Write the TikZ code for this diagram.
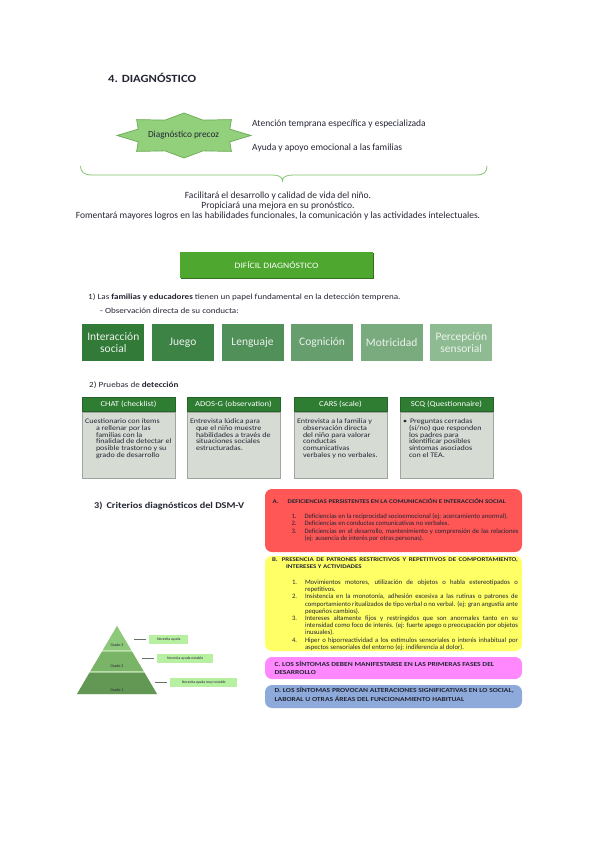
\documentclass[tikz,border=0pt]{standalone}
\usepackage{fontspec}
\setmainfont{Carlito}
\newfontfamily\ancha{Carlito}[FakeStretch=1.15]
\newfontfamily\anchisima{Carlito}[FakeStretch=1.22]
\usetikzlibrary{positioning, shadows}

\definecolor{tinta}{RGB}{36,38,52}
\definecolor{verdeestrella}{RGB}{146,208,124}
\definecolor{bordeestrella}{RGB}{104,170,84}
\definecolor{verdellave}{RGB}{130,198,110}
\definecolor{verdedificil}{RGB}{78,167,46}
\definecolor{sombradificil}{RGB}{52,112,32}
\definecolor{cond1}{RGB}{49,122,56}
\definecolor{cond2}{RGB}{62,131,70}
\definecolor{cond3}{RGB}{81,144,89}
\definecolor{cond4}{RGB}{103,158,110}
\definecolor{cond5}{RGB}{122,171,127}
\definecolor{cond6}{RGB}{143,187,146}
\definecolor{blanco}{RGB}{236,242,236}
\definecolor{verdecab}{RGB}{46,125,50}
\definecolor{grisprueba}{RGB}{214,220,212}
\definecolor{rojo}{RGB}{255,86,86}
\definecolor{amarillo}{RGB}{255,255,102}
\definecolor{rosa}{RGB}{255,136,255}
\definecolor{azul}{RGB}{142,170,219}
\definecolor{pir0}{RGB}{196,228,182}
\definecolor{pir1}{RGB}{142,200,122}
\definecolor{pir2}{RGB}{122,180,102}
\definecolor{pir3}{RGB}{98,152,84}
\definecolor{etiqueta}{RGB}{182,240,160}
\definecolor{guiagris}{RGB}{100,114,100}

\newcommand{\critem}[2]{\hangindent=13pt\hangafter=1\makebox[13pt][l]{#1}#2\par}
\newcommand{\ajustecriterio}{\parindent=0pt\relax\parskip=0pt\relax\hyphenpenalty=10000\relax}
\newcommand{\titulocriterio}{\anchisima\fontsize{5.7}{7.2}\selectfont\bfseries}

\begin{document}
\begin{tikzpicture}[x=1pt, y=-1pt,
    every node/.style={text=tinta},
    cuerpo/.style={font=\fontsize{9.5}{10}\selectfont, inner sep=0},
    cuerpochico/.style={font=\ancha\fontsize{7.9}{9}\selectfont, inner sep=0},
    conducta/.style={minimum width=62, minimum height=37, inner sep=0, align=center, text=blanco, font=\fontsize{11.5}{11.8}\selectfont},
    cabecera/.style={fill=verdecab, draw=verdecab!80!black, line width=0.4, text=white, minimum width=93, minimum height=14, inner sep=0, font=\ancha\fontsize{7.5}{9}\selectfont},
    cuerpoprueba/.style={fill=grisprueba, draw=grisprueba!75!black, line width=0.4, minimum width=93, minimum height=66, inner sep=0},
    textoprueba/.style={align=left, inner sep=0, anchor=north west, font=\ancha\fontsize{7}{6.7}\selectfont},
    criterio/.style={rounded corners=7, minimum width=257, inner sep=0},
    textocriterio/.style={text width=246, align=justify, inner sep=0, anchor=north west, font=\fontsize{6.7}{7.2}\selectfont},
    textofase/.style={align=left, inner sep=0, anchor=west, font=\anchisima\fontsize{6.2}{8.5}\selectfont\bfseries},
    etiquetapir/.style={fill=etiqueta, minimum height=9, inner sep=0, anchor=west, font=\fontsize{3.8}{4}\selectfont},
    guia/.style={draw=guiagris, line width=1.5, shorten >=3pt}]

% fondo y margenes
\fill[white] (0,0) rectangle (600,848);
\useasboundingbox (0,0) rectangle (600,848);

\node[font=\ancha\fontsize{11}{13}\selectfont\bfseries, anchor=west, inner sep=0] (titulo) at (108,78) {4. DIAGNÓSTICO};

% estrella
\filldraw[fill=verdeestrella, draw=bordeestrella, line width=0.7]
    plot[samples at={0,22.5,...,337.5}] ({184+67*ifthenelse(mod(\x,45)==0,1,0.74)*cos(\x)}, {135.5+22.5*ifthenelse(mod(\x,45)==0,1,0.74)*sin(\x)}) -- cycle;
\node[font=\fontsize{9.3}{10}\selectfont, inner sep=0] (precoz) at (183.5,135.5) {Diagnóstico precoz};

\node[cuerpo, anchor=west] (atencion) at (252,124) {Atención temprana específica y especializada};
\node[cuerpo, anchor=west] (ayuda) at (252,148) {Ayuda y apoyo emocional a las familias};

% llave
\draw[verdellave, line width=0.8] (80.5,166) .. controls (80.5,172) and (84,175) .. (92,175) -- (272,175)
    .. controls (279,175) and (282.5,177) .. (282.5,181) .. controls (282.5,177) and (286,175) .. (293,175)
    -- (476,175) .. controls (484,175) and (487,172) .. (487,166);

\node[cuerpo, align=center] (logros) at (278,206.5) {Facilitará el desarrollo y calidad de vida del niño.\\Propiciará una mejora en su pronóstico.\\Fomentará mayores logros en las habilidades funcionales, la comunicación y las actividades intelectuales.};

\node[fill=verdedificil, text=white, minimum width=193, minimum height=26, inner sep=0, font=\ancha\fontsize{8.3}{9}\selectfont,
      drop shadow={shadow xshift=1.3pt, shadow yshift=-1.3pt, fill=sombradificil, opacity=1}] (dificil) at (276.5,265) {DIFÍCIL DIAGNÓSTICO};

\node[cuerpochico, anchor=west] (familias) at (88,297) {1) Las \textbf{familias y educadores} tienen un papel fundamental en la detección temprena.};
\node[cuerpochico, anchor=west] (observacion) at (100,311) {- Observación directa de su conducta:};

\foreach \texto [count=\i] in {{Interacción\\social}, Juego, Lenguaje, Cognición, Motricidad, {Percepción\\sensorial}}
    \node[conducta, fill=cond\i] (area\i) at ({113.3+69.6*(\i-1)},342.5) {\texto};

\node[cuerpochico, anchor=west] (pruebas) at (89,385) {2) Pruebas de \textbf{detección}};

\node[cabecera] (chat) at (128.5,404.5) {CHAT (checklist)};
\node[cabecera] (ados) at (233.5,404.5) {ADOS-G (observation)};
\node[cabecera] (cars) at (340.5,404.5) {CARS (scale)};
\node[cabecera] (scq) at (446.5,404.5) {SCQ (Questionnaire)};

\node[cuerpoprueba, below=0pt of chat] (chatcuerpo) {};
\node[cuerpoprueba, below=0pt of ados] (adoscuerpo) {};
\node[cuerpoprueba, below=0pt of cars] (carscuerpo) {};
\node[cuerpoprueba, below=0pt of scq] (scqcuerpo) {};

\node[textoprueba, below right=7pt and 3pt of chatcuerpo.north west] (chattexto) {Cuestionario con ítems\\\hspace*{11pt}a rellenar por las\\\hspace*{11pt}familias con la\\\hspace*{11pt}finalidad de detectar el\\\hspace*{11pt}posible trastorno y su\\\hspace*{11pt}grado de desarrollo};
\node[textoprueba, below right=7pt and 3pt of adoscuerpo.north west] (adostexto) {Entrevista lúdica para\\\hspace*{6pt}que el niño muestre\\\hspace*{6pt}habilidades a través de\\\hspace*{6pt}situaciones sociales\\\hspace*{6pt}estructuradas.};
\node[textoprueba, below right=7pt and 3pt of carscuerpo.north west] (carstexto) {Entrevista a la familia y\\\hspace*{6pt}observación directa\\\hspace*{6pt}del niño para valorar\\\hspace*{6pt}conductas\\\hspace*{6pt}comunicativas\\\hspace*{6pt}verbales y no verbales.};
\node[textoprueba, below right=7pt and 3pt of scqcuerpo.north west] (scqtexto) {•\hspace{3pt}Preguntas cerradas\\\hspace*{6pt}(sí/no) que responden\\\hspace*{6pt}los padres para\\\hspace*{6pt}identificar posibles\\\hspace*{6pt}síntomas asociados\\\hspace*{6pt}con el TEA.};

\node[font=\ancha\fontsize{8.9}{10}\selectfont\bfseries, anchor=west, inner sep=0] (criterios) at (94,506) {3)\hspace{4pt}Criterios diagnósticos del DSM-V};

% criterios DSM-V
\node[criterio, fill=rojo, minimum height=63] (critA) at (393.5,520.5) {};
\node[criterio, fill=amarillo, minimum height=95] (critB) at (393.5,603.5) {};
\node[criterio, fill=rosa, minimum height=22] (critC) at (393.5,668) {};
\node[criterio, fill=azul, minimum height=23] (critD) at (393.5,696.5) {};

\node[textocriterio, below right=10pt and 7.5pt of critA.north west] (textoA) {\ajustecriterio
    {\titulocriterio A.\hspace{9pt}DEFICIENCIAS PERSISTENTES EN LA COMUNICACIÓN E INTERACCIÓN SOCIAL\par}
    \vspace{7.8pt}\leftskip=19pt
    \critem{1.}{Deficiencias en la reciprocidad socioemocional (ej: acercamiento anormal).}
    \critem{2.}{Deficiencias en conductas comunicativas no verbales.}
    \critem{3.}{Deficiencias en el desarrollo, mantenimiento y comprensión de las relaciones (ej: ausencia de interés por otras personas).}};
\node[textocriterio, below right=1.5pt and 7pt of critB.north west] (textoB) {\ajustecriterio
    {\titulocriterio\hangindent=14pt\hangafter=1 B.\hspace{4pt}PRESENCIA DE PATRONES RESTRICTIVOS Y REPETITIVOS DE COMPORTAMIENTO,\linebreak INTERESES Y ACTIVIDADES\par}
    \vspace{8.8pt}\leftskip=20pt
    \critem{1.}{Movimientos motores, utilización de objetos o habla estereotipados o repetitivos.}
    \critem{2.}{Insistencia en la monotonía, adhesión excesiva a las rutinas o patrones de comportamiento ritualizados de tipo verbal o no verbal. (ej: gran angustia ante pequeños cambios).}
    \critem{3.}{Intereses altamente fijos y restringidos que son anormales tanto en su intensidad como foco de interés. (ej: fuerte apego o preocupación por objetos inusuales).}
    \critem{4.}{Hiper o hiporreactividad a los estímulos sensoriales o interés inhabitual por aspectos sensoriales del entorno (ej: indiferencia al dolor).}};
\node[textofase, right=9.5pt of critC.west] (textoC) {C. LOS SÍNTOMAS DEBEN MANIFESTARSE EN LAS PRIMERAS FASES DEL\\DESARROLLO};
\node[textofase, right=9.5pt of critD.west, yshift=2pt] (textoD) {D. LOS SÍNTOMAS PROVOCAN ALTERACIONES SIGNIFICATIVAS EN LO SOCIAL,\\LABORAL U OTRAS ÁREAS DEL FUNCIONAMIENTO HABITUAL};

% piramide
\fill[pir0] (117,626) -- (157,694) -- (77,694) -- cycle;
\fill[pir1] (117,626) -- (131.1,650) -- (102.9,650) -- cycle;
\fill[pir2] (102,651.5) -- (132,651.5) -- (143.5,671) -- (90.5,671) -- cycle;
\fill[pir3] (89.6,672.5) -- (144.4,672.5) -- (157,694) -- (77,694) -- cycle;
\node[font=\fontsize{4}{5}\selectfont, inner sep=0] (grado3) at (117,645) {Grado 3};
\node[font=\fontsize{4}{5}\selectfont, inner sep=0] (grado2) at (117,666) {Grado 2};
\node[font=\fontsize{4}{5}\selectfont, inner sep=0] (grado1) at (117,690) {Grado 1};

\node[etiquetapir, minimum width=39] (nec1) at (149,639.5) {Necesita ayuda};
\node[etiquetapir, minimum width=56] (nec2) at (157,658.5) {Necesita ayuda notable};
\node[etiquetapir, minimum width=67] (nec3) at (170,682.5) {Necesita ayuda muy notable};
\coordinate (borde1) at (134,639.5);
\coordinate (borde2) at (142,658.5);
\coordinate (borde3) at (155,682.5);
\draw[guia] (borde1) -- (nec1.west);
\draw[guia] (borde2) -- (nec2.west);
\draw[guia] (borde3) -- (nec3.west);
\end{tikzpicture}
\end{document}
